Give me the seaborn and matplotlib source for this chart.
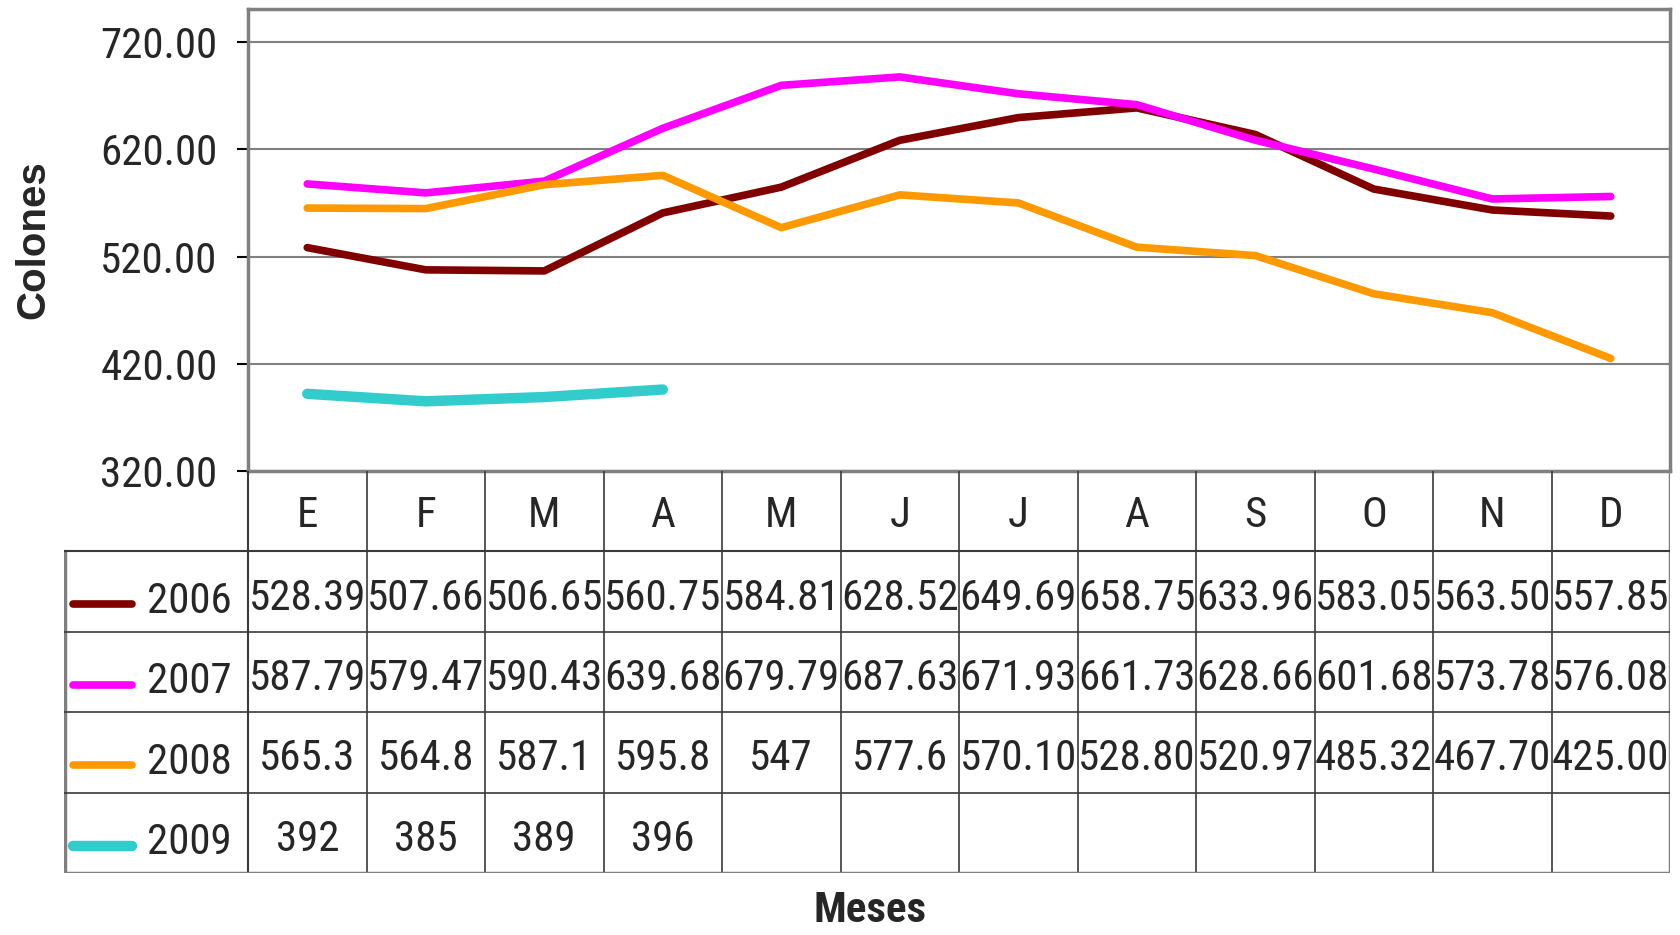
import seaborn as sns
import numpy as np
import pandas as pd
import matplotlib.pyplot as plt
from matplotlib import font_manager as fm

# datos del gráfico
meses = ["E", "F", "M", "A", "M", "J", "J", "A", "S", "O", "N", "D"]
anios = ["2006", "2007", "2008", "2009"]
v2006 = [528.39, 507.66, 506.65, 560.75, 584.81, 628.52, 649.69, 658.75, 633.96, 583.05, 563.50, 557.85]
v2007 = [587.79, 579.47, 590.43, 639.68, 679.79, 687.63, 671.93, 661.73, 628.66, 601.68, 573.78, 576.08]
v2008 = [565.3, 564.8, 587.1, 595.8, 547, 577.6, 570.10, 528.80, 520.97, 485.32, 467.70, 425.00]
v2009 = [392, 385, 389, 396]
# texto tal como aparece en la tabla
t2006 = ["528.39", "507.66", "506.65", "560.75", "584.81", "628.52", "649.69", "658.75", "633.96", "583.05", "563.50", "557.85"]
t2007 = ["587.79", "579.47", "590.43", "639.68", "679.79", "687.63", "671.93", "661.73", "628.66", "601.68", "573.78", "576.08"]
t2008 = ["565.3", "564.8", "587.1", "595.8", "547", "577.6", "570.10", "528.80", "520.97", "485.32", "467.70", "425.00"]
t2009 = ["392", "385", "389", "396"]

colores = ["#800000", "#FF00FF", "#FF9900", "#33CCCC"]
grosor = [5.5, 5.5, 5.5, 7.5]

valores = [v2006, v2007, v2008, v2009]
textos = [t2006, t2007, t2008, t2009]

filas = []
for anio, vals in zip(anios, valores):
    for i, v in enumerate(vals):
        filas.append({"anio": anio, "mes": i, "precio": v})
df = pd.DataFrame(filas)

sns.set_theme(style="white")

# buscar una fuente estrecha (tipo Arial Narrow); si no hay, Liberation Sans más pequeña
preferidas = ["Liberation Sans Narrow", "Arial Narrow", "Roboto Condensed", "DejaVu Sans",
              "Noto Sans", "Open Sans", "Open Sans Condensed", "Noto Sans Condensed", "Lato", "Inter"]
estrechas = {f.name for f in fm.fontManager.ttflist if f.stretch == "condensed" and f.style == "normal"}
fuente = next((n for n in preferidas if n in estrechas), None)
if fuente is None and estrechas:
    fuente = sorted(estrechas)[0]
if fuente is not None:
    plt.rcParams["font.family"] = [fuente, "DejaVu Sans"]
    plt.rcParams["font.stretch"] = "condensed"
    fs = 31
else:
    plt.rcParams["font.family"] = ["Liberation Sans", "DejaVu Sans"]
    fs = 25.5

fig = plt.figure(figsize=(16.8, 9.35), dpi=100)
W, H = 1680, 935

# eje principal (gráfico de líneas)
ax = fig.add_axes([248 / W, 1 - 471 / H, (1670 - 248) / W, (471 - 9) / H])
for anio, c, lw in zip(anios, colores, grosor):
    sns.lineplot(data=df[df["anio"] == anio], x="mes", y="precio", color=c,
                 linewidth=lw, solid_capstyle="round", ax=ax, legend=False)

ax.set_xlim(-0.5, 11.5)
ax.set_ylim(320, 751)
ax.set_yticks(np.arange(320, 721, 100))
ax.set_yticklabels([f"{t:.2f}" for t in np.arange(320, 721, 100)], fontsize=fs)
ax.set_xticks([])
ax.set_xlabel("")
ax.set_ylabel("")
ax.grid(axis="y", color="#808080", linewidth=1.5)
ax.tick_params(axis="y", left=True, length=8, width=1.5, color="black", pad=14)
for lbl in ax.get_yticklabels():
    lbl.set_va("center_baseline")
for s in ax.spines.values():
    s.set_color("#808080")
    s.set_linewidth(2.5)

fig.text(33 / W, 1 - 240 / H, "Colones", rotation=90, ha="center", va="center",
         fontsize=29, fontweight="bold", family=["Liberation Sans", "DejaVu Sans"],
         fontstretch="normal")

# tabla de datos debajo
tab = fig.add_axes([64 / W, 1 - 873 / H, (1670 - 64) / W, (873 - 471) / H])
x0 = -0.5 - 184 / 118.5
tab.set_xlim(x0, 11.5)
tab.set_ylim(0, 5)
tab.axis("off")

interior = "#3a3a3a"
exterior = "#808080"
# líneas verticales
for k in range(1, 12):
    tab.plot([k - 0.5, k - 0.5], [0, 5], color=interior, lw=1.2)
tab.plot([-0.5, -0.5], [0, 5], color=interior, lw=1.5)
tab.plot([11.5, 11.5], [0, 5], color=exterior, lw=2.5)
tab.plot([x0 + 0.005, x0 + 0.005], [0, 4], color=exterior, lw=2.5)
# líneas horizontales
for r in range(1, 4):
    tab.plot([x0, 11.5], [r, r], color=interior, lw=1.2)
tab.plot([x0, 11.5], [4, 4], color=interior, lw=1.5)
tab.plot([x0, 11.5], [0.005, 0.005], color=exterior, lw=2.5)

for i, m in enumerate(meses):
    tab.text(i, 4.45, m, ha="center", va="center", fontsize=fs)

for r, (anio, txts, c, lw) in enumerate(zip(anios, textos, colores, grosor)):
    yc = 3.5 - r
    for i, t in enumerate(txts):
        tab.text(i, yc - 0.08, t, ha="center", va="center", fontsize=fs)
    tab.text(-0.5 - 16 / 118.5, yc - 0.12, anio, ha="right", va="center", fontsize=fs)
    tab.plot([x0 + 9 / 118.5, x0 + 68 / 118.5], [yc - 0.16, yc - 0.16], color=c,
             lw=lw, solid_capstyle="round")

fig.text(870 / W, 1 - 911 / H, "Meses", ha="center", va="center",
         fontsize=fs, fontweight="bold")

fig.savefig("out.png", dpi=100)
